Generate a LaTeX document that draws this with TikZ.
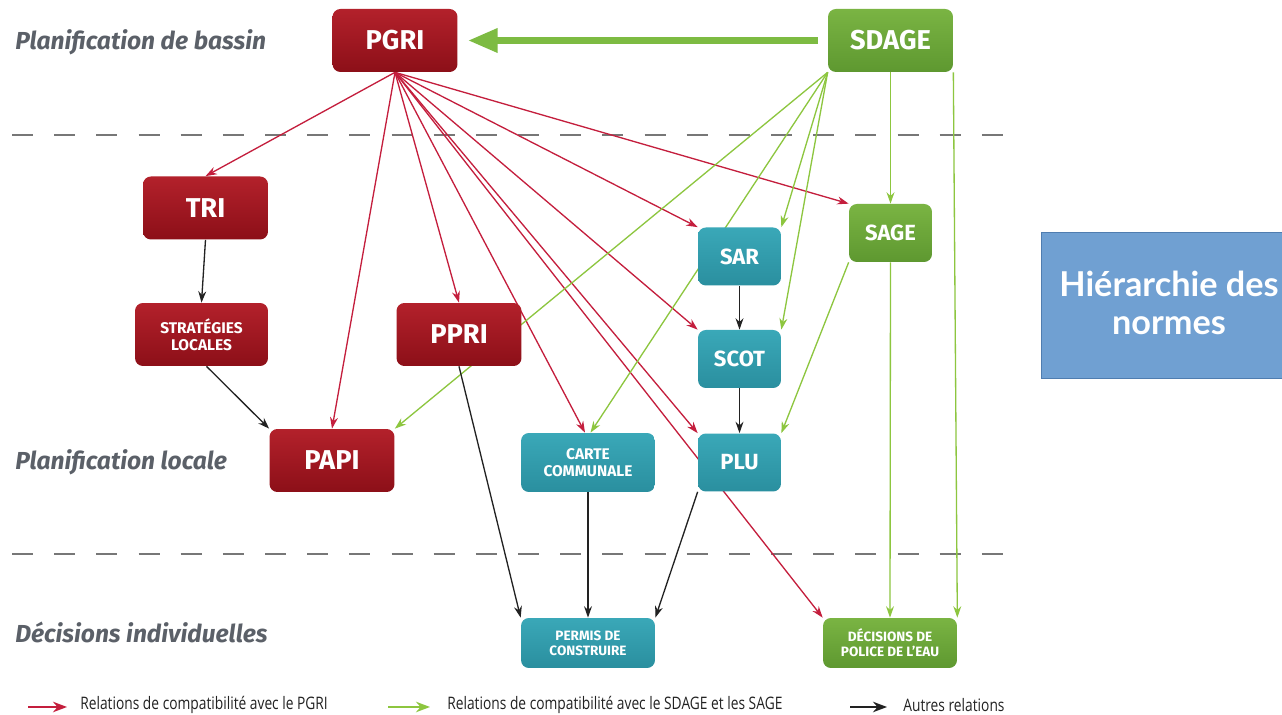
\documentclass[tikz,border=0pt]{standalone}
\usepackage{fontspec}
\setmainfont{Fira Sans}
\newfontfamily\boxfont{Fira Sans}
\newfontfamily\hierfont{Lato}
\newfontfamily\legfont[FakeStretch=0.8]{Open Sans}
\usetikzlibrary{arrows.meta,backgrounds}
\definecolor{redtop}{HTML}{B3212B}
\definecolor{redbot}{HTML}{8C0F18}
\definecolor{tealtop}{HTML}{3AA8B8}
\definecolor{tealbot}{HTML}{2A8F9F}
\definecolor{greentop}{HTML}{7AB443}
\definecolor{greenbot}{HTML}{5E9830}
\definecolor{linered}{HTML}{C41E3D}
\definecolor{linegreen}{HTML}{8DC63F}
\definecolor{thickgreen}{HTML}{7DBB42}
\definecolor{lineblack}{HTML}{222222}
\definecolor{dashgray}{HTML}{777777}
\definecolor{labgray}{HTML}{5B6068}
\definecolor{hierfill}{HTML}{70A0D2}
\definecolor{hierdraw}{HTML}{4F7DB0}
\tikzset{
  basebox/.style={rounded corners=4.5pt, inner sep=0pt, align=center, text=white, font=\boxfont\bfseries},
  bigred/.style={basebox, top color=redtop, bottom color=redbot, minimum width=2.5cm, minimum height=1.26cm, font=\boxfont\bfseries\fontsize{15.5}{17}\selectfont},
  smallred/.style={basebox, top color=redtop, bottom color=redbot, minimum width=2.66cm, minimum height=1.26cm, font=\boxfont\bfseries\fontsize{8.8}{9.5}\selectfont},
  tealbox/.style={basebox, top color=tealtop, bottom color=tealbot, minimum width=1.66cm, minimum height=1.16cm, font=\boxfont\bfseries\fontsize{12.5}{14}\selectfont},
  tealwide/.style={basebox, top color=tealtop, bottom color=tealbot, minimum width=2.68cm, minimum height=1.18cm, font=\boxfont\bfseries\fontsize{8.8}{9.5}\selectfont},
  tealdec/.style={basebox, top color=tealtop, bottom color=tealbot, minimum width=2.68cm, minimum height=1.0cm, font=\boxfont\bfseries\fontsize{7.7}{8.5}\selectfont},
  greenbig/.style={basebox, top color=greentop, bottom color=greenbot, minimum width=2.5cm, minimum height=1.26cm, font=\boxfont\bfseries\fontsize{15.5}{17}\selectfont},
  greensmall/.style={basebox, top color=greentop, bottom color=greenbot, minimum width=1.66cm, minimum height=1.16cm, font=\boxfont\bfseries\fontsize{12.5}{14}\selectfont},
  greendec/.style={basebox, top color=greentop, bottom color=greenbot, minimum width=2.68cm, minimum height=1.0cm, font=\boxfont\bfseries\fontsize{7.7}{8.5}\selectfont},
  redarr/.style={draw=linered, line width=0.75pt, -{Stealth[length=6.5pt,width=4.5pt]}},
  greenarr/.style={draw=linegreen, line width=0.75pt, -{Stealth[length=6.5pt,width=4.5pt]}},
  blackarr/.style={draw=lineblack, line width=0.75pt, -{Stealth[length=6.5pt,width=4.5pt]}},
  sepline/.style={draw=dashgray, line width=0.7pt, dash pattern=on 12pt off 12pt},
  levellabel/.style={anchor=west, inner sep=0pt, text=labgray, font=\bfseries\itshape\fontsize{14}{16}\selectfont},
  legtext/.style={anchor=west, inner sep=0pt, text=lineblack, font=\legfont\fontsize{9.8}{11}\selectfont},
}
\begin{document}
\begin{tikzpicture}[x=0.02cm, y=-0.02cm]
\useasboundingbox (0,0) rectangle (1282,715);

% nodes
\node[bigred] (pgri) at (395,40.5) {PGRI};
\node[greenbig] (sdage) at (890.5,40.5) {SDAGE};
\node[bigred] (tri) at (205.5,208) {TRI};
\node[smallred] (strat) at (201.5,334.5) {STRATÉGIES\\LOCALES};
\node[bigred] (ppri) at (459,334.5) {PPRI};
\node[bigred] (papi) at (332,460.5) {PAPI};
\node[tealbox] (sar) at (739.5,256.5) {SAR};
\node[tealbox] (scot) at (739.5,359) {SCOT};
\node[tealbox] (plu) at (739.5,462.5) {PLU};
\node[greensmall] (sage) at (890.5,233) {SAGE};
\node[tealwide] (carte) at (588,462.5) {CARTE\\COMMUNALE};
\node[tealdec] (permis) at (588,643) {PERMIS DE\\CONSTRUIRE};
\node[greendec] (dec) at (890,643) {DÉCISIONS DE\\POLICE DE L’EAU};

% level labels
\node[levellabel] (l1) at (15,42) {Planification de bassin};
\node[levellabel] (l2) at (15,462) {Planification locale};
\node[levellabel] (l3) at (15,632) {Décisions individuelles};

% hierarchy box
\node[draw=hierdraw, line width=0.8pt, fill=hierfill, minimum width=5.2cm, minimum height=2.92cm, anchor=north west, inner sep=0pt] (hier) at (1041,232) {};
\node[text=white, align=center, font=\hierfont\bfseries\fontsize{19.5}{21.5}\selectfont, anchor=center, inner sep=0pt] (hiertxt) at (1169,303) {Hiérarchie des\\normes};

\begin{scope}[on background layer]
\fill[white] (0,0) rectangle (1282,715);
\coordinate (d1a) at (12,135); \coordinate (d1b) at (1010,135);
\coordinate (d2a) at (12,554); \coordinate (d2b) at (1010,554);
\draw[sepline] (d1a) -- (d1b);
\draw[sepline] (d2a) -- (d2b);

% thick green
\draw[draw=thickgreen, line width=4pt, -{Triangle[length=17pt,width=13pt]}, shorten <=5.7pt, shorten >=5.7pt] (sdage.west) -- (pgri.east);

% red from PGRI
\draw[redarr] (pgri.south) -- (tri.north);
\draw[redarr] (pgri.south) -- (papi.north);
\draw[redarr] (pgri.south) -- (ppri.north);
\draw[redarr] (pgri.south) -- ([xshift=-0.06cm]carte.north);
\draw[redarr] (pgri.south) -- (plu.north west);
\draw[redarr] (pgri.south) -- (dec.north west);
\draw[redarr] (pgri.south) -- (scot.north west);
\draw[redarr] (pgri.south) -- (sar.north west);
\draw[redarr] (pgri.south) -- (sage.north west);

% green from SDAGE
\draw[greenarr] (sdage.south west) -- (papi.north east);
\draw[greenarr] (sdage.south west) -- ([xshift=0.05cm]carte.north);
\draw[greenarr] (sdage.south west) -- (sar.north east);
\draw[greenarr] (sdage.south west) -- (scot.north east);
\draw[greenarr] (sdage.south) -- (sage.north);
\draw[greenarr] (sdage.south east) -- (dec.north east);
\draw[greenarr] (sage.south) -- (dec.north);
\draw[greenarr] (sage.south west) -- (plu.north east);

% black
\draw[blackarr] (tri.south) -- (strat.north);
\draw[blackarr] ([xshift=0.1cm]strat.south) -- (papi.north west);
\draw[blackarr] (ppri.south) -- (permis.north west);
\draw[blackarr] (carte.south) -- (permis.north);
\draw[blackarr] (plu.south west) -- (permis.north east);
\draw[blackarr] (sar.south) -- (scot.north);
\draw[blackarr] (scot.south) -- (plu.north);
\end{scope}

% legend
\coordinate (ra) at (28,707); \coordinate (rb) at (67,707);
\coordinate (ga) at (388,707); \coordinate (gb) at (430,707);
\coordinate (ba) at (850,707); \coordinate (bb) at (887,707);
\draw[redarr, line width=1pt, -{Stealth[length=8pt,width=6pt]}] (ra) -- (rb);
\draw[greenarr, line width=1pt, -{Stealth[length=8pt,width=6pt]}] (ga) -- (gb);
\draw[blackarr, line width=1pt, -{Stealth[length=8pt,width=6pt]}] (ba) -- (bb);
\node[legtext] (lt1) at (80,705) {Relations de compatibilité avec le PGRI};
\node[legtext] (lt2) at (447,705) {Relations de compatibilité avec le SDAGE et les SAGE};
\node[legtext] (lt3) at (903,705) {Autres relations};
\end{tikzpicture}
\end{document}
